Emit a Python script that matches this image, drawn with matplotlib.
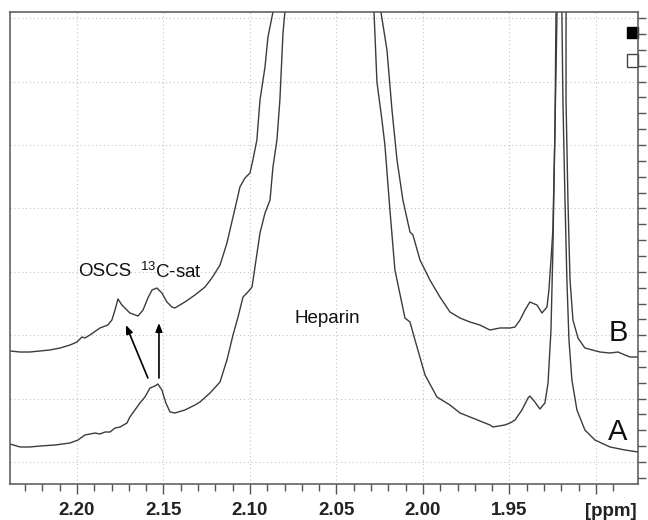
import matplotlib
matplotlib.use("Agg")
import matplotlib.pyplot as plt
from matplotlib.patches import Rectangle

plt.rcParams['font.family'] = ['Liberation Sans', 'DejaVu Sans']
plt.rcParams['mathtext.fontset'] = 'custom'
plt.rcParams['mathtext.rm'] = 'Liberation Sans'

# trace B (upper spectrum), ppm / intensity, split at clipped peak tops
b_ppm = [2.2387, 2.2329, 2.2272, 2.2214, 2.2156, 2.2098, 2.2040, 2.2000, 2.1971, 2.1954,
         2.1925, 2.1867, 2.1821, 2.1798, 2.1780, 2.1763, 2.1740, 2.1711, 2.1694, 2.1647,
         2.1618, 2.1590, 2.1566, 2.1538, 2.1509, 2.1480, 2.1451, 2.1434, 2.1376, 2.1318,
         2.1260, 2.1220, 2.1173, 2.1133, 2.1098, 2.1075, 2.1058, 2.1029, 2.1000, 2.0983,
         2.0960, 2.0942, 2.0913, 2.0896, 2.0867, 2.0861,
         2.0249, 2.0243, 2.0208, 2.0179, 2.0150, 2.0116, 2.0075, 2.0058, 2.0017, 1.9960,
         1.9902, 1.9844, 1.9786, 1.9728, 1.9671, 1.9613, 1.9555, 1.9497, 1.9468, 1.9439,
         1.9410, 1.9382, 1.9341, 1.9312, 1.9283, 1.9272, 1.9260, 1.9249, 1.9237, 1.9231,
         1.9228,
         1.9174, 1.9173, 1.9173, 1.9162, 1.9150, 1.9133, 1.9104, 1.9064, 1.8977, 1.8919,
         1.8873, 1.8832, 1.8803, 1.8757]
b_int = [1.751, 1.735, 1.735, 1.751, 1.767, 1.798, 1.845, 1.893, 1.972, 1.956,
         2.003, 2.114, 2.161, 2.240, 2.397, 2.571, 2.476, 2.397, 2.350, 2.303,
         2.397, 2.587, 2.713, 2.744, 2.666, 2.524, 2.445, 2.429, 2.524, 2.634,
         2.760, 2.902, 3.107, 3.454, 3.864, 4.132, 4.338, 4.479, 4.558, 4.763,
         5.079, 5.710, 6.230, 6.703, 7.098, 7.6,
         7.6, 7.098, 6.498, 5.552, 4.763, 4.132, 3.628, 3.580, 3.186, 2.871,
         2.603, 2.366, 2.271, 2.208, 2.161, 2.082, 2.114, 2.114, 2.129, 2.240,
         2.397, 2.524, 2.476, 2.350, 2.445, 2.713, 3.186, 3.659, 5.237, 7.098,
         7.6,
         7.6, 7.098, 5.710, 4.132, 2.871, 2.240, 1.956, 1.798, 1.735, 1.719,
         1.735, 1.688, 1.656, 1.656]

# trace A (lower spectrum)
a_ppm = [2.2387, 2.2329, 2.2272, 2.2214, 2.2127, 2.2040, 2.1994, 2.1954, 2.1896, 2.1867,
         2.1838, 2.1809, 2.1780, 2.1751, 2.1711, 2.1694, 2.1665, 2.1636, 2.1607, 2.1578,
         2.1549, 2.1532, 2.1509, 2.1486, 2.1462, 2.1434, 2.1376, 2.1318, 2.1289, 2.1231,
         2.1173, 2.1133, 2.1098, 2.1069, 2.1040, 2.1012, 2.0988, 2.0971, 2.0942, 2.0913,
         2.0884, 2.0867, 2.0844, 2.0827, 2.0809, 2.0798, 2.0792,
         2.0289, 2.0283, 2.0266, 2.0237, 2.0220, 2.0191, 2.0162, 2.0104, 2.0075, 2.0046,
         1.9988, 1.9919, 1.9844, 1.9786, 1.9728, 1.9613, 1.9595, 1.9526, 1.9497, 1.9468,
         1.9428, 1.9393, 1.9382, 1.9353, 1.9324, 1.9295, 1.9277, 1.9260, 1.9249, 1.9237,
         1.9225, 1.9222,
         1.9197, 1.9197, 1.9191, 1.9179, 1.9168, 1.9156, 1.9139, 1.9110, 1.9064, 1.9006,
         1.8919, 1.8832, 1.8757]
a_int = [0.284, 0.237, 0.237, 0.252, 0.268, 0.300, 0.347, 0.426, 0.457, 0.442,
         0.473, 0.473, 0.536, 0.552, 0.615, 0.710, 0.820, 0.931, 1.025, 1.167,
         1.199, 1.230, 1.136, 0.931, 0.789, 0.773, 0.820, 0.899, 0.946, 1.088,
         1.262, 1.609, 2.003, 2.287, 2.603, 2.681, 2.760, 3.076, 3.612, 3.927,
         4.132, 4.653, 5.079, 5.710, 6.767, 7.098, 7.6,
         7.6, 7.098, 5.994, 5.394, 5.000, 3.975, 3.028, 2.271, 2.208, 1.924,
         1.372, 1.025, 0.899, 0.773, 0.710, 0.584, 0.552, 0.584, 0.615, 0.662,
         0.820, 1.009, 1.041, 0.946, 0.836, 0.931, 1.246, 2.082, 3.344, 5.237,
         7.098, 7.6,
         7.6, 7.098, 5.710, 4.132, 2.871, 1.924, 1.293, 0.820, 0.505, 0.347,
         0.237, 0.189, 0.158]

x_major = [2.20, 2.15, 2.10, 2.05, 2.00, 1.95, 1.90]
x_labels = ["2.20", "2.15", "2.10", "2.05", "2.00", "1.95", ""]

# annotations
arrow_tails = [(2.1590, 1.325), (2.1526, 1.325)]
arrow_heads = [(2.1717, 2.161), (2.1526, 2.192)]
labels = [("OSCS", 2.1838, 2.997), (r"$^{13}$C-sat", 2.1457, 2.997), ("Heparin", 2.0555, 2.271)]
trace_names = [("B", 1.8873, 2.035), ("A", 1.8873, 0.473)]

fig = plt.figure(figsize=(6.48, 5.2), dpi=100)
ax = fig.add_axes([10/648, 36/520, 628/648, 472/520])

line_col = "#3c3c3c"
ax.plot(b_ppm, b_int, color=line_col, lw=1.0)
ax.plot(a_ppm, a_int, color=line_col, lw=1.0)

ax.set_xlim(2.2387, 1.8757)
ax.set_ylim(-0.347, 7.098)

ax.set_xticks(x_major)
ax.set_xticklabels(x_labels, fontsize=13.5, fontweight="bold", color="#222222")
ax.set_xticks([round(2.23 - 0.01 * i, 2) for i in range(35)], minor=True)
ax.tick_params(axis="x", which="major", direction="out", length=7, width=1, color="#555555", pad=6)
ax.tick_params(axis="x", which="minor", direction="out", length=5, width=1, color="#555555")

ax.yaxis.tick_right()
ax.set_yticks([0.25 * i - 0.25 for i in range(30)])
ax.set_yticks(range(0, 8), minor=True)
ax.tick_params(axis="y", which="major", direction="out", length=6, width=1, color="#555555",
               labelright=False, labelleft=False)
ax.tick_params(axis="y", which="minor", length=0)

for xv in x_major:
    ax.axvline(xv, color="#c4c4c4", lw=0.8, ls=(0, (1, 2.5)), zorder=0)
for yv in range(0, 8):
    ax.axhline(yv, color="#c4c4c4", lw=0.8, ls=(0, (1, 2.5)), zorder=0)

for s in ax.spines.values():
    s.set_color("#555555")
    s.set_linewidth(1.1)

for (tx, ty), (hx, hy) in zip(arrow_tails, arrow_heads):
    ax.annotate("", xy=(hx, hy), xytext=(tx, ty),
                arrowprops=dict(arrowstyle="-|>,head_length=0.5,head_width=0.2",
                                color="black", lw=1.2, shrinkA=0, shrinkB=0))

for txt, xv, yv in labels:
    ax.text(xv, yv, txt, fontsize=13.5, ha="center", va="center", color="#111111")
for txt, xv, yv in trace_names:
    ax.text(xv, yv, txt, fontsize=21, ha="center", va="center", color="#111111")

ax.add_patch(Rectangle((0.9825, 0.9449), 0.0175, 0.0233, transform=ax.transAxes,
                       facecolor="black", edgecolor="black", clip_on=False))
ax.add_patch(Rectangle((0.9825, 0.8835), 0.0175, 0.0275, transform=ax.transAxes,
                       facecolor="white", edgecolor="#444444", lw=1, clip_on=False))

fig.text(637/648, 1 - 511/520, "[ppm]", ha="right", va="center", fontsize=13.5,
         fontweight="bold", color="#222222")

fig.savefig("out.png", dpi=100)
